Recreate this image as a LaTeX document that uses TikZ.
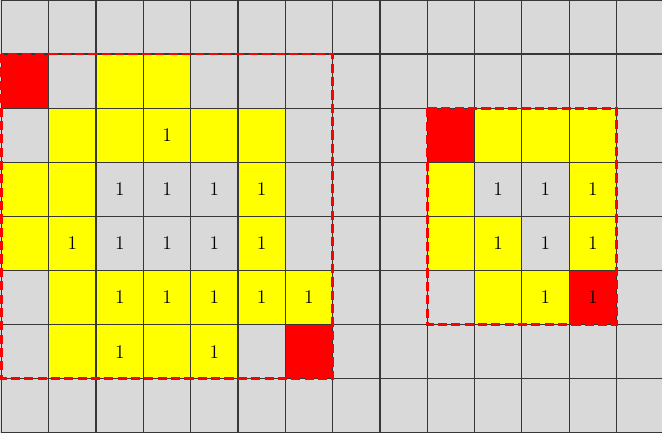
\documentclass[tikz,border=0pt]{standalone}
\usepackage{tikz}

\definecolor{cellgray}{RGB}{217,217,217}
\definecolor{cellyellow}{RGB}{255,255,0}
\definecolor{cellred}{RGB}{255,0,0}
\definecolor{gridline}{RGB}{55,55,55}

\tikzset{
  yellowcell/.style={fill=cellyellow},
  redcell/.style={fill=cellred},
  gridrule/.style={draw=gridline, line width=0.7pt},
  window/.style={draw=cellred, line width=1.5pt, dash pattern=on 5.2pt off 2.4pt},
  onelabel/.style={inner sep=0pt, font=\fontsize{11}{13}\selectfont}
}

\begin{document}
\begin{tikzpicture}[x=0.946cm, y=-1.082cm]
        % Grid: 14 columns x 8 rows, cell (c,r) from (c,r) to (c+1,r+1)
        \def\ncols{14}
        \def\nrows{8}
        \useasboundingbox (-0.032,0) rectangle (13.964,8.151);
        \clip (-0.032,0) rectangle (13.964,8.151);
        \fill[white] (-0.032,0) rectangle (13.964,8.151);
        \fill[cellgray] (-0.032,0) rectangle (\ncols,\nrows);

        % Left region: yellow cells
        \fill[yellowcell] (2,1) rectangle (4,2);
        \fill[yellowcell] (1,2) rectangle (6,3);
        \fill[yellowcell] (0,3) rectangle (2,4) (5,3) rectangle (6,4);
        \fill[yellowcell] (0,4) rectangle (2,5) (5,4) rectangle (6,5);
        \fill[yellowcell] (1,5) rectangle (7,6);
        \fill[yellowcell] (1,6) rectangle (5,7);

        % Left region: red corners
        \fill[redcell] (0,1) rectangle (1,2);
        \fill[redcell] (6,6) rectangle (7,7);

        % Right region: yellow cells
        \fill[yellowcell] (10,2) rectangle (13,3);
        \fill[yellowcell] (9,3) rectangle (10,4) (12,3) rectangle (13,4);
        \fill[yellowcell] (9,4) rectangle (11,5) (12,4) rectangle (13,5);
        \fill[yellowcell] (10,5) rectangle (12,6);

        % Right region: red corners
        \fill[redcell] (9,2) rectangle (10,3);
        \fill[redcell] (12,5) rectangle (13,6);

        % Grid lines
        \foreach \c in {0,...,\ncols}
            \draw[gridrule] (\c,0) -- (\c,\nrows);
        \foreach \r in {0,...,\nrows}
            \draw[gridrule] (0,\r) -- (\ncols,\r);

        % Labels: left region
        \foreach \c/\r in {3/2, 2/3, 3/3, 4/3, 5/3, 1/4, 2/4, 3/4, 4/4, 5/4,
                           2/5, 3/5, 4/5, 5/5, 6/5, 2/6, 4/6}
            \node[onelabel] (left-\c-\r) at (\c+0.5,\r+0.5) {1};

        % Labels: right region
        \foreach \c/\r in {10/3, 11/3, 12/3, 10/4, 11/4, 12/4, 11/5, 12/5}
            \node[onelabel] (right-\c-\r) at (\c+0.5,\r+0.5) {1};

        % Dashed windows
        \draw[window] (0,1) rectangle (7,7);
        \draw[window] (9,2) rectangle (13,6);
    \end{tikzpicture}
\end{document}
